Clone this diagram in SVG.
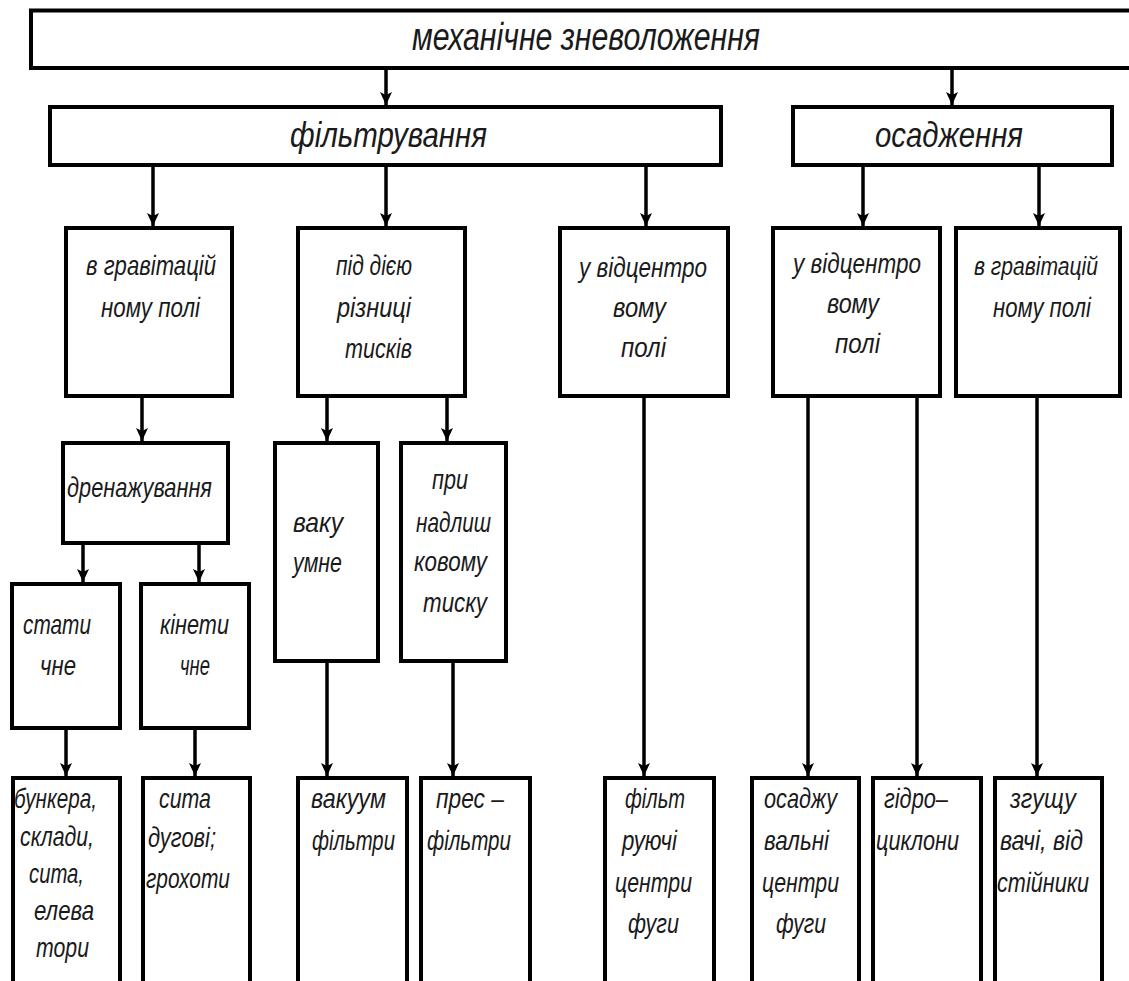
<svg xmlns="http://www.w3.org/2000/svg" width="1129" height="981" viewBox="0 0 1129 981">
  <style>
    .box { fill: #ffffff; stroke: #000000; stroke-width: 4; }
    .wire { fill: none; stroke: #000000; stroke-width: 3.5; }
    .t { font-family: "Liberation Sans", "DejaVu Sans", sans-serif; font-style: italic; fill: #1a1a1a; }
    .t1 { font-size: 39px; }
    .t2 { font-size: 35px; }
    .t3 { font-size: 28px; }
    .t4 { font-size: 25px; }
  </style>
  <defs>
    <marker id="arrow" markerUnits="userSpaceOnUse" markerWidth="15" markerHeight="15" viewBox="-14 -7.5 15 15" refX="0" refY="0" orient="auto">
      <path d="M -13 -6 L -10 0 L -13 6 L 0 0 Z" fill="#000000"/>
    </marker>
  </defs>
  <rect width="1129" height="981" fill="#ffffff"/>

  <!-- connectors -->
  <g id="connectors" class="wire">
    <line x1="386" y1="68" x2="386" y2="105" marker-end="url(#arrow)"/>
    <line x1="952" y1="68" x2="952" y2="105" marker-end="url(#arrow)"/>
    <line x1="153" y1="165" x2="153" y2="226" marker-end="url(#arrow)"/>
    <line x1="386" y1="165" x2="386" y2="226" marker-end="url(#arrow)"/>
    <line x1="646" y1="165" x2="646" y2="226" marker-end="url(#arrow)"/>
    <line x1="863" y1="165" x2="863" y2="226" marker-end="url(#arrow)"/>
    <line x1="1039" y1="165" x2="1039" y2="226" marker-end="url(#arrow)"/>
    <line x1="142" y1="396" x2="142" y2="441" marker-end="url(#arrow)"/>
    <line x1="327" y1="396" x2="327" y2="441" marker-end="url(#arrow)"/>
    <line x1="447" y1="396" x2="447" y2="441" marker-end="url(#arrow)"/>
    <line x1="83" y1="543" x2="83" y2="582" marker-end="url(#arrow)"/>
    <line x1="199" y1="543" x2="199" y2="582" marker-end="url(#arrow)"/>
    <line x1="66" y1="728" x2="66" y2="776" marker-end="url(#arrow)"/>
    <line x1="195" y1="728" x2="195" y2="776" marker-end="url(#arrow)"/>
    <line x1="327" y1="661" x2="327" y2="776" marker-end="url(#arrow)"/>
    <line x1="453" y1="661" x2="453" y2="776" marker-end="url(#arrow)"/>
    <line x1="644" y1="396" x2="644" y2="776" marker-end="url(#arrow)"/>
    <line x1="808" y1="396" x2="808" y2="776" marker-end="url(#arrow)"/>
    <line x1="917" y1="396" x2="917" y2="776" marker-end="url(#arrow)"/>
    <line x1="1037" y1="396" x2="1037" y2="776" marker-end="url(#arrow)"/>
  </g>

  <g id="n-root">
    <rect class="box" x="31" y="10.5" width="1120" height="57.5"/>
    <text class="t t1" x="412" y="50" textLength="348" lengthAdjust="spacingAndGlyphs">механічне зневоложення</text>
  </g>

  <g id="n-filtering">
    <rect class="box" x="50" y="107" width="671" height="58"/>
    <text class="t t2" x="290" y="147" textLength="197" lengthAdjust="spacingAndGlyphs">фільтрування</text>
  </g>

  <g id="n-settling">
    <rect class="box" x="793" y="107" width="319" height="58"/>
    <text class="t t2" x="875" y="147" textLength="148" lengthAdjust="spacingAndGlyphs">осадження</text>
  </g>

  <g id="n-f-gravity">
    <rect class="box" x="66" y="228" width="166" height="168"/>
    <text class="t t3" x="86" y="275" textLength="130" lengthAdjust="spacingAndGlyphs">в гравітацій</text>
    <text class="t t3" x="101" y="317" textLength="99" lengthAdjust="spacingAndGlyphs">ному полі</text>
  </g>

  <g id="n-f-pressure">
    <rect class="box" x="298" y="228" width="167" height="168"/>
    <text class="t t3" x="336" y="275" textLength="76" lengthAdjust="spacingAndGlyphs">під дією</text>
    <text class="t t3" x="337" y="317" textLength="74" lengthAdjust="spacingAndGlyphs">різниці</text>
    <text class="t t3" x="345" y="358" textLength="67" lengthAdjust="spacingAndGlyphs">тисків</text>
  </g>

  <g id="n-f-centrifugal">
    <rect class="box" x="560" y="228" width="168" height="168"/>
    <text class="t t3" x="579" y="277" textLength="128" lengthAdjust="spacingAndGlyphs">у відцентро</text>
    <text class="t t3" x="613" y="317" textLength="53" lengthAdjust="spacingAndGlyphs">вому</text>
    <text class="t t3" x="621" y="357" textLength="45" lengthAdjust="spacingAndGlyphs">полі</text>
  </g>

  <g id="n-s-centrifugal">
    <rect class="box" x="773" y="228" width="167" height="168"/>
    <text class="t t3" x="793" y="273" textLength="128" lengthAdjust="spacingAndGlyphs">у відцентро</text>
    <text class="t t3" x="827" y="313" textLength="52" lengthAdjust="spacingAndGlyphs">вому</text>
    <text class="t t3" x="835" y="353" textLength="45" lengthAdjust="spacingAndGlyphs">полі</text>
  </g>

  <g id="n-s-gravity">
    <rect class="box" x="956" y="228" width="164" height="168"/>
    <text class="t t4" x="974" y="275" textLength="124" lengthAdjust="spacingAndGlyphs">в гравітацій</text>
    <text class="t t3" x="993" y="317" textLength="98" lengthAdjust="spacingAndGlyphs">ному полі</text>
  </g>

  <g id="n-drainage">
    <rect class="box" x="63" y="443" width="165" height="100"/>
    <text class="t t3" x="67" y="497" textLength="145" lengthAdjust="spacingAndGlyphs">дренажування</text>
  </g>

  <g id="n-vacuum">
    <rect class="box" x="275" y="443" width="103" height="218"/>
    <text class="t t3" x="293" y="532" textLength="50" lengthAdjust="spacingAndGlyphs">ваку</text>
    <text class="t t3" x="293" y="572" textLength="49" lengthAdjust="spacingAndGlyphs">умне</text>
  </g>

  <g id="n-overpressure">
    <rect class="box" x="401" y="443" width="105" height="218"/>
    <text class="t t3" x="432" y="489" textLength="36" lengthAdjust="spacingAndGlyphs">при</text>
    <text class="t t3" x="416" y="532" textLength="75" lengthAdjust="spacingAndGlyphs">надлиш</text>
    <text class="t t3" x="414" y="571" textLength="73" lengthAdjust="spacingAndGlyphs">ковому</text>
    <text class="t t3" x="423" y="612" textLength="64" lengthAdjust="spacingAndGlyphs">тиску</text>
  </g>

  <g id="n-static">
    <rect class="box" x="12" y="584" width="108" height="144"/>
    <text class="t t3" x="23" y="634" textLength="68" lengthAdjust="spacingAndGlyphs">стати</text>
    <text class="t t3" x="40" y="675" textLength="36" lengthAdjust="spacingAndGlyphs">чне</text>
  </g>

  <g id="n-kinetic">
    <rect class="box" x="141" y="584" width="108" height="144"/>
    <text class="t t3" x="160" y="634" textLength="69" lengthAdjust="spacingAndGlyphs">кінети</text>
    <text class="t t3" x="180" y="675" textLength="30" lengthAdjust="spacingAndGlyphs">чне</text>
  </g>

  <g id="n-bunkers">
    <rect class="box" x="13" y="778" width="107" height="220"/>
    <text class="t t3" x="14" y="808" textLength="83" lengthAdjust="spacingAndGlyphs">бункера,</text>
    <text class="t t3" x="20" y="846" textLength="74" lengthAdjust="spacingAndGlyphs">склади,</text>
    <text class="t t3" x="29" y="883" textLength="55" lengthAdjust="spacingAndGlyphs">сита,</text>
    <text class="t t3" x="34" y="920" textLength="60" lengthAdjust="spacingAndGlyphs">елева</text>
    <text class="t t3" x="36" y="957" textLength="53" lengthAdjust="spacingAndGlyphs">тори</text>
  </g>

  <g id="n-screens">
    <rect class="box" x="143" y="778" width="107" height="220"/>
    <text class="t t3" x="159" y="808" textLength="52" lengthAdjust="spacingAndGlyphs">сита</text>
    <text class="t t3" x="148" y="847" textLength="68" lengthAdjust="spacingAndGlyphs">дугові;</text>
    <text class="t t3" x="146" y="888" textLength="84" lengthAdjust="spacingAndGlyphs">грохоти</text>
  </g>

  <g id="n-vacuum-filters">
    <rect class="box" x="298" y="778" width="109" height="220"/>
    <text class="t t3" x="311" y="808" textLength="75" lengthAdjust="spacingAndGlyphs">вакуум</text>
    <text class="t t3" x="312" y="850" textLength="83" lengthAdjust="spacingAndGlyphs">фільтри</text>
  </g>

  <g id="n-filter-presses">
    <rect class="box" x="421" y="778" width="109" height="220"/>
    <text class="t t3" x="436" y="808" textLength="68" lengthAdjust="spacingAndGlyphs">прес –</text>
    <text class="t t3" x="427" y="850" textLength="84" lengthAdjust="spacingAndGlyphs">фільтри</text>
  </g>

  <g id="n-filtering-centrifuges">
    <rect class="box" x="605" y="778" width="109" height="220"/>
    <text class="t t3" x="625" y="808" textLength="60" lengthAdjust="spacingAndGlyphs">фільт</text>
    <text class="t t3" x="622" y="850" textLength="55" lengthAdjust="spacingAndGlyphs">руючі</text>
    <text class="t t3" x="615" y="892" textLength="77" lengthAdjust="spacingAndGlyphs">центри</text>
    <text class="t t3" x="628" y="933" textLength="51" lengthAdjust="spacingAndGlyphs">фуги</text>
  </g>

  <g id="n-settling-centrifuges">
    <rect class="box" x="752" y="778" width="107" height="220"/>
    <text class="t t3" x="764" y="808" textLength="73" lengthAdjust="spacingAndGlyphs">осаджу</text>
    <text class="t t3" x="764" y="850" textLength="65" lengthAdjust="spacingAndGlyphs">вальні</text>
    <text class="t t3" x="762" y="892" textLength="77" lengthAdjust="spacingAndGlyphs">центри</text>
    <text class="t t3" x="776" y="933" textLength="50" lengthAdjust="spacingAndGlyphs">фуги</text>
  </g>

  <g id="n-hydrocyclones">
    <rect class="box" x="873" y="778" width="108" height="220"/>
    <text class="t t3" x="884" y="808" textLength="64" lengthAdjust="spacingAndGlyphs">гідро–</text>
    <text class="t t3" x="876" y="850" textLength="83" lengthAdjust="spacingAndGlyphs">циклони</text>
  </g>

  <g id="n-thickeners">
    <rect class="box" x="995" y="778" width="107" height="220"/>
    <text class="t t3" x="1010" y="808" textLength="66" lengthAdjust="spacingAndGlyphs">згущу</text>
    <text class="t t3" x="1000" y="850" textLength="83" lengthAdjust="spacingAndGlyphs">вачі, від</text>
    <text class="t t3" x="997" y="892" textLength="92" lengthAdjust="spacingAndGlyphs">стійники</text>
  </g>
</svg>
